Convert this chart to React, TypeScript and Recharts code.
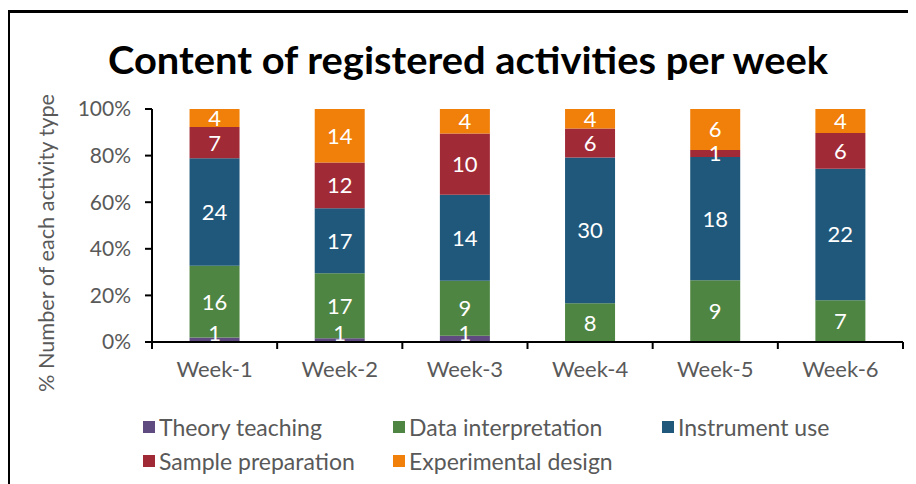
import React from 'react';
import { BarChart, Bar, XAxis, YAxis, LabelList } from 'recharts';

const categories = ['Week-1', 'Week-2', 'Week-3', 'Week-4', 'Week-5', 'Week-6'];
const theoryTeaching = [1, 1, 1, 0, 0, 0];
const dataInterpretation = [16, 17, 9, 8, 9, 7];
const instrumentUse = [24, 17, 14, 30, 18, 22];
const samplePreparation = [7, 12, 10, 6, 1, 6];
const experimentalDesign = [4, 14, 4, 4, 6, 4];
const yTicks = [0, 0.2, 0.4, 0.6, 0.8, 1];

const series = [
  { key: 'theory', name: 'Theory teaching', values: theoryTeaching, color: '#5F4B80' },
  { key: 'data', name: 'Data interpretation', values: dataInterpretation, color: '#4F8542' },
  { key: 'instrument', name: 'Instrument use', values: instrumentUse, color: '#1F587A' },
  { key: 'sample', name: 'Sample preparation', values: samplePreparation, color: '#A12A37' },
  { key: 'experimental', name: 'Experimental design', values: experimentalDesign, color: '#F0800A' },
];

const data = categories.map((c, i) => {
  const row: any = { week: c };
  series.forEach((s) => { row[s.key] = s.values[i]; });
  return row;
});

const W = 900;
const H = 476;
const X_H = 40;
const M = { top: 101, right: 5, left: 0, bottom: 142 - X_H };
const Y_W = 144;
const FONT = 'Lato, "Open Sans", sans-serif';
const PLOT_LEFT = M.left + Y_W;
const PLOT_RIGHT = W - M.right;
const BAND = (PLOT_RIGHT - PLOT_LEFT) / categories.length;
const PLOT_BOTTOM = H - M.bottom - X_H;

const XTick = (props: any) => {
  const { x, y, payload, index } = props;
  return (
    <g>
      <line x1={x - BAND / 2} x2={x - BAND / 2} y1={y} y2={y + 7} stroke="#000" strokeWidth={2} />
      {index === categories.length - 1 && (
        <line x1={x + BAND / 2} x2={x + BAND / 2} y1={y} y2={y + 7} stroke="#000" strokeWidth={2} />
      )}
      <text x={x} y={y + 35} textAnchor="middle" fill="#595959" fontSize={22} fontFamily={FONT}>
        {payload.value}
      </text>
    </g>
  );
};

const makeLabel = (sKey: string) => (props: any) => {
  const { x, y, width, height, value } = props;
  if (!value) return null;
  let cy = y + height / 2;
  if (cy > PLOT_BOTTOM - 9) cy = PLOT_BOTTOM - 9;
  return (
    <text x={x + width / 2} y={cy} dy="0.36em" textAnchor="middle" fill="#fff" fontSize={22} fontFamily={FONT}>
      {value}
    </text>
  );
};

export default function App() {
  return (
    <div style={{ position: 'relative', width: W, height: H, background: '#fff' }}>
      <div style={{ position: 'absolute', left: 0, top: 2, width: W, height: H, borderTop: '3px solid #000', borderLeft: '2px solid #000', boxSizing: 'border-box' }} />
      <BarChart width={W} height={H} data={data} stackOffset="expand" margin={M} barCategoryGap="30%">
        <XAxis
          dataKey="week"
          tick={<XTick />}
          tickLine={false}
          tickSize={0}
          tickMargin={0}
          axisLine={{ stroke: '#000', strokeWidth: 2 }}
          interval={0}
          height={X_H}
        />
        <YAxis
          width={Y_W}
          domain={[0, 1]}
          ticks={yTicks}
          tickFormatter={(v: number) => `${Math.round(v * 100)}%`}
          tick={{ fill: '#595959', fontSize: 21, fontFamily: FONT }}
          tickLine={{ stroke: '#000', strokeWidth: 2 }}
          tickSize={7}
          tickMargin={14}
          axisLine={{ stroke: '#000', strokeWidth: 2 }}
        />
        {series.map((s) => (
          <Bar key={s.key} dataKey={s.key} name={s.name} stackId="a" fill={s.color} isAnimationActive={false}>
            <LabelList dataKey={s.key} content={makeLabel(s.key)} />
          </Bar>
        ))}
      </BarChart>
      <svg width={W} height={H} style={{ position: 'absolute', left: 0, top: 0, pointerEvents: 'none' }}>
        <text x={460} y={66} textAnchor="middle" fontSize={38} fontWeight="bold" fontFamily={FONT} fill="#000" textLength={720} lengthAdjust="spacingAndGlyphs">
          Content of registered activities per week
        </text>
        <text
          transform="translate(46, 235) rotate(-90)"
          textAnchor="middle"
          fontSize={22}
          fill="#595959"
          fontFamily={FONT}
          textLength={298}
          lengthAdjust="spacingAndGlyphs"
        >
          % Number of each activity type
        </text>
      </svg>
      {series.map((s, i) => {
        const col = i < 3 ? i : i - 3;
        const row = i < 3 ? 0 : 1;
        const lefts = [135, 385, 654];
        return (
          <div
            key={s.key}
            style={{ position: 'absolute', left: lefts[col], top: 405 + row * 34, height: 28, display: 'flex', alignItems: 'center', fontFamily: FONT, fontSize: 23, color: '#595959', whiteSpace: 'nowrap' }}
          >
            <span style={{ display: 'inline-block', width: 12, height: 12, background: s.color, marginRight: 4 }} />
            {s.name}
          </div>
        );
      })}
    </div>
  );
}
